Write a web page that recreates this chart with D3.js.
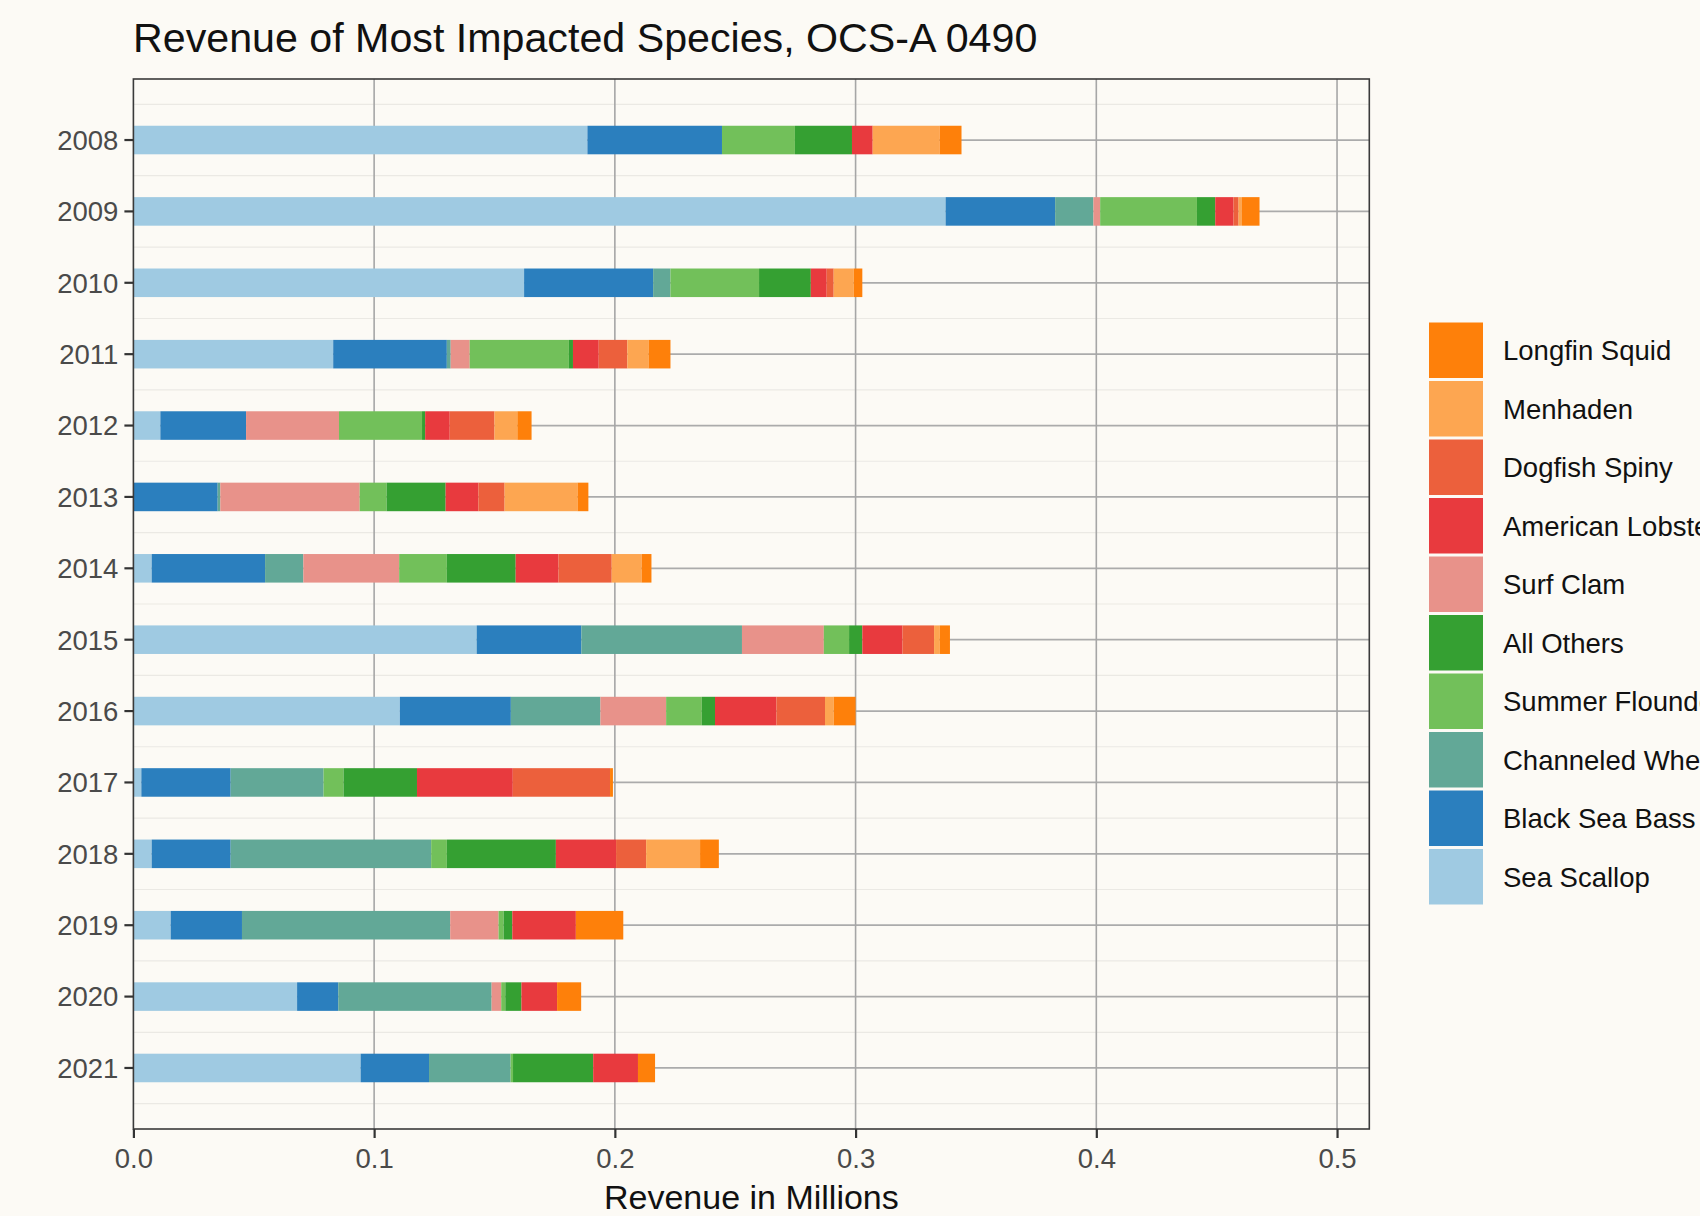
<!DOCTYPE html>
<html>
<head>
<meta charset="utf-8">
<script src="https://cdn.jsdelivr.net/npm/d3@7/dist/d3.min.js"></script>
<style>
  html, body { margin: 0; padding: 0; background: #fcfaf5; }
  svg { display: block; }
  text { font-family: "Liberation Sans", Arial, Helvetica, sans-serif; }
</style>
</head>
<body>
<svg id="chart" width="1700" height="1216"></svg>
<script>
// ---- Data (revenue in millions) ----
const years = ["2008","2009","2010","2011","2012","2013","2014","2015","2016","2017","2018","2019","2020","2021"];
const species = ["Sea Scallop","Black Sea Bass","Channeled Whelk","Surf Clam","Summer Flounder","All Others","American Lobster","Dogfish Spiny","Menhaden","Longfin Squid"];
const legendOrder = ["Longfin Squid","Menhaden","Dogfish Spiny","American Lobster","Surf Clam","All Others","Summer Flounder","Channeled Whelk","Black Sea Bass","Sea Scallop"];
const legendLabels = ["Longfin Squid","Menhaden","Dogfish Spiny","American Lobster","Surf Clam","All Others","Summer Flounder","Channeled Whelk","Black Sea Bass","Sea Scallop"];

const seaScallop      = [0.1886,0.3374,0.1623,0.0830,0.0112,0.0000,0.0076,0.1426,0.1107,0.0033,0.0076,0.0155,0.0680,0.0944];
const blackSeaBass    = [0.0559,0.0455,0.0536,0.0472,0.0356,0.0350,0.0471,0.0435,0.0461,0.0371,0.0328,0.0296,0.0171,0.0284];
const channeledWhelk  = [0.0000,0.0159,0.0072,0.0016,0.0000,0.0011,0.0159,0.0667,0.0372,0.0386,0.0833,0.0865,0.0637,0.0339];
const surfClam        = [0.0000,0.0028,0.0000,0.0079,0.0386,0.0579,0.0398,0.0340,0.0273,0.0000,0.0000,0.0201,0.0040,0.0000];
const summerFlounder  = [0.0303,0.0402,0.0368,0.0412,0.0345,0.0112,0.0198,0.0105,0.0148,0.0083,0.0065,0.0021,0.0017,0.0010];
const allOthers       = [0.0237,0.0076,0.0215,0.0017,0.0013,0.0245,0.0286,0.0055,0.0055,0.0305,0.0453,0.0036,0.0067,0.0333];
const americanLobster = [0.0086,0.0076,0.0066,0.0107,0.0102,0.0136,0.0178,0.0167,0.0255,0.0398,0.0250,0.0264,0.0148,0.0186];
const dogfishSpiny    = [0.0000,0.0021,0.0029,0.0119,0.0186,0.0109,0.0221,0.0131,0.0202,0.0404,0.0125,0.0000,0.0000,0.0000];
const menhaden        = [0.0278,0.0014,0.0083,0.0088,0.0095,0.0303,0.0124,0.0023,0.0036,0.0000,0.0224,0.0000,0.0000,0.0000];
const longfinSquid    = [0.0091,0.0073,0.0036,0.0091,0.0059,0.0045,0.0041,0.0043,0.0091,0.0012,0.0078,0.0197,0.0100,0.0071];

const xTicks = [0, 0.1, 0.2, 0.3, 0.4, 0.5];
const xTickLabels = ["0.0","0.1","0.2","0.3","0.4","0.5"];

const colors = {
  "Sea Scallop": "#9fcae2",
  "Black Sea Bass": "#2b7fbe",
  "Channeled Whelk": "#62a897",
  "Surf Clam": "#e8928a",
  "Summer Flounder": "#72c05a",
  "All Others": "#35a032",
  "American Lobster": "#e83a3e",
  "Dogfish Spiny": "#ec603c",
  "Menhaden": "#fda651",
  "Longfin Squid": "#fe800a"
};

// ---- Build table ----
const seriesValues = [seaScallop, blackSeaBass, channeledWhelk, surfClam, summerFlounder, allOthers, americanLobster, dogfishSpiny, menhaden, longfinSquid];
const table = years.map((y, i) => {
  const row = { year: y };
  species.forEach((s, j) => { row[s] = seriesValues[j][i]; });
  return row;
});
const stacked = d3.stack().keys(species)(table);

// ---- Layout ----
const svg = d3.select("#chart");
const panel = { left: 133.4, right: 1369.3, top: 79, bottom: 1129 };

svg.append("rect").attr("x", 0).attr("y", 0).attr("width", 1700).attr("height", 1216).attr("fill", "#fcfaf5");

const x = d3.scaleLinear().domain([0, 0.5134]).range([panel.left, panel.right]);
const y = d3.scaleBand().domain(years).range([panel.top, panel.bottom]).paddingInner(0.6).paddingOuter(0.655);

const g = svg.append("g");

// minor horizontal gridlines (between years)
const minorY = years.slice(0, -1).map((yr, i) => (y(yr) + y(years[i + 1])) / 2 + y.bandwidth() / 2);
minorY.unshift(y(years[0]) + y.bandwidth() / 2 - y.step() / 2);
minorY.push(y(years[years.length - 1]) + y.bandwidth() / 2 + y.step() / 2);
g.selectAll("line.minor").data(minorY).join("line")
  .attr("x1", panel.left).attr("x2", panel.right)
  .attr("y1", d => d).attr("y2", d => d)
  .attr("stroke", "#ebe9e4").attr("stroke-width", 1.2);

// major horizontal gridlines
g.selectAll("line.majorY").data(years).join("line")
  .attr("x1", panel.left).attr("x2", panel.right)
  .attr("y1", d => y(d) + y.bandwidth() / 2).attr("y2", d => y(d) + y.bandwidth() / 2)
  .attr("stroke", "#ababab").attr("stroke-width", 1.8);

// major vertical gridlines
g.selectAll("line.majorX").data(xTicks.slice(1)).join("line")
  .attr("x1", d => x(d)).attr("x2", d => x(d))
  .attr("y1", panel.top).attr("y2", panel.bottom)
  .attr("stroke", "#a6a6a6").attr("stroke-width", 1.6);

// bars
g.selectAll("g.layer").data(stacked).join("g")
  .attr("fill", d => colors[d.key])
  .selectAll("rect").data(d => d).join("rect")
  .attr("x", d => x(d[0]))
  .attr("width", d => Math.max(0, x(d[1]) - x(d[0])))
  .attr("y", d => y(d.data.year))
  .attr("height", y.bandwidth());

// panel border
svg.append("rect")
  .attr("x", panel.left).attr("y", panel.top)
  .attr("width", panel.right - panel.left).attr("height", panel.bottom - panel.top)
  .attr("fill", "none").attr("stroke", "#3a3a3a").attr("stroke-width", 1.6);

// y axis ticks & labels
const yAxis = d3.axisLeft(y).tickSize(9).tickPadding(6);
const ya = svg.append("g").attr("transform", `translate(${panel.left},0)`).call(yAxis);
ya.select(".domain").remove();
ya.selectAll(".tick line").attr("stroke", "#333").attr("stroke-width", 2.2);
ya.selectAll(".tick text").attr("fill", "#4a4a4a").style("font-size", "27.5px")
  .style("font-family", '"Liberation Sans", Arial, sans-serif').attr("dy", "0.36em");

// x axis ticks & labels
const xAxis = d3.axisBottom(x).tickValues(xTicks).tickFormat((d, i) => xTickLabels[i]).tickSize(9).tickPadding(10);
const xa = svg.append("g").attr("transform", `translate(0,${panel.bottom})`).call(xAxis);
xa.select(".domain").remove();
xa.selectAll(".tick line").attr("stroke", "#333").attr("stroke-width", 2.2);
xa.selectAll(".tick text").attr("fill", "#4a4a4a").style("font-size", "27.5px")
  .style("font-family", '"Liberation Sans", Arial, sans-serif');

// title
svg.append("text").attr("x", 133).attr("y", 52)
  .attr("fill", "#111").style("font-size", "41.2px").text("Revenue of Most Impacted Species, OCS-A 0490");

// x axis title
svg.append("text").attr("x", (panel.left + panel.right) / 2).attr("y", 1209)
  .attr("text-anchor", "middle").attr("fill", "#111").style("font-size", "34px").text("Revenue in Millions");

// legend
const legY0 = 321, legStep = 58.5;
const leg = svg.append("g");
const items = leg.selectAll("g").data(legendOrder).join("g")
  .attr("transform", (d, i) => `translate(1429,${legY0 + i * legStep})`);
items.append("rect").attr("x", 0).attr("y", 1.5).attr("width", 54).attr("height", legStep - 3)
  .attr("fill", d => colors[d]);
items.append("text").attr("x", 74).attr("y", legStep / 2).attr("dy", "0.36em")
  .attr("fill", "#111").style("font-size", "27.5px").text((d, i) => legendLabels[i]);
</script>
</body>
</html>
